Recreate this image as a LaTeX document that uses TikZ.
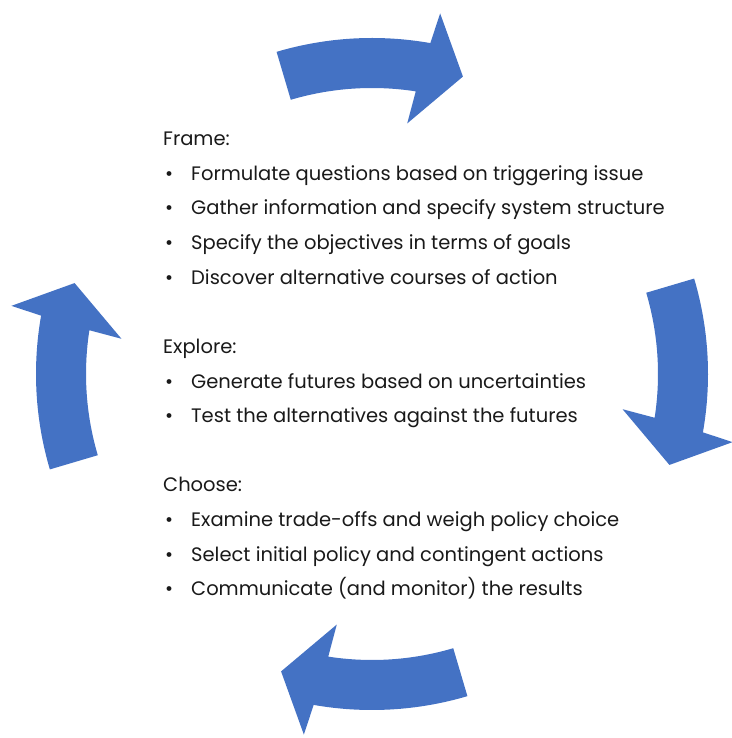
\documentclass[tikz,border=0pt]{standalone}
\usepackage{fontspec}
\setmainfont{Poppins}
\usetikzlibrary{positioning, calc}
\definecolor{cycleblue}{HTML}{4472C4}
\newcommand{\stepfont}{\fontsize{19.5}{23}\selectfont}
\tikzset{
  heading/.style={anchor=base west, inner sep=0, font=\stepfont, text=black!90},
  item/.style={anchor=base west, inner sep=0, font=\stepfont, text=black!90},
}
\newcommand{\itm}[1]{\makebox[26pt][l]{\textbullet}#1}

\begin{document}
\begin{tikzpicture}[x=1pt, y=1pt]
  \useasboundingbox (0,0) rectangle (731,738);

  % four curved arrows round the centre
  \foreach \turn in {0,-90,-180,-270}
    \fill[cycleblue, shift={(372,364)}, rotate=\turn]
      (106.5:336) arc[start angle=106.5, end angle=80, radius=336pt]
      -- (79.3:367) -- (73:311) -- (82:253) -- (81.2:286)
      arc[start angle=81.2, end angle=106.5, radius=286pt] -- cycle;

  \node[heading] (frame) at (163,592.5) {Frame:};
  \node[item] (frame1) at (165,557.85) {\itm{Formulate questions based on triggering issue}};
  \node[item] (frame2) at (165,523.2) {\itm{Gather information and specify system structure}};
  \node[item] (frame3) at (165,488.55) {\itm{Specify the objectives in terms of goals}};
  \node[item] (frame4) at (165,453.9) {\itm{Discover alternative courses of action}};

  \node[heading] (explore) at (163,384.6) {Explore:};
  \node[item] (explore1) at (165,349.95) {\itm{Generate futures based on uncertainties}};
  \node[item] (explore2) at (165,315.3) {\itm{Test the alternatives against the futures}};

  \node[heading] (choose) at (163,246) {Choose:};
  \node[item] (choose1) at (165,211.35) {\itm{Examine trade-offs and weigh policy choice}};
  \node[item] (choose2) at (165,176.7) {\itm{Select initial policy and contingent actions}};
  \node[item] (choose3) at (165,142.05) {\itm{Communicate (and monitor) the results}};
\end{tikzpicture}
\end{document}
